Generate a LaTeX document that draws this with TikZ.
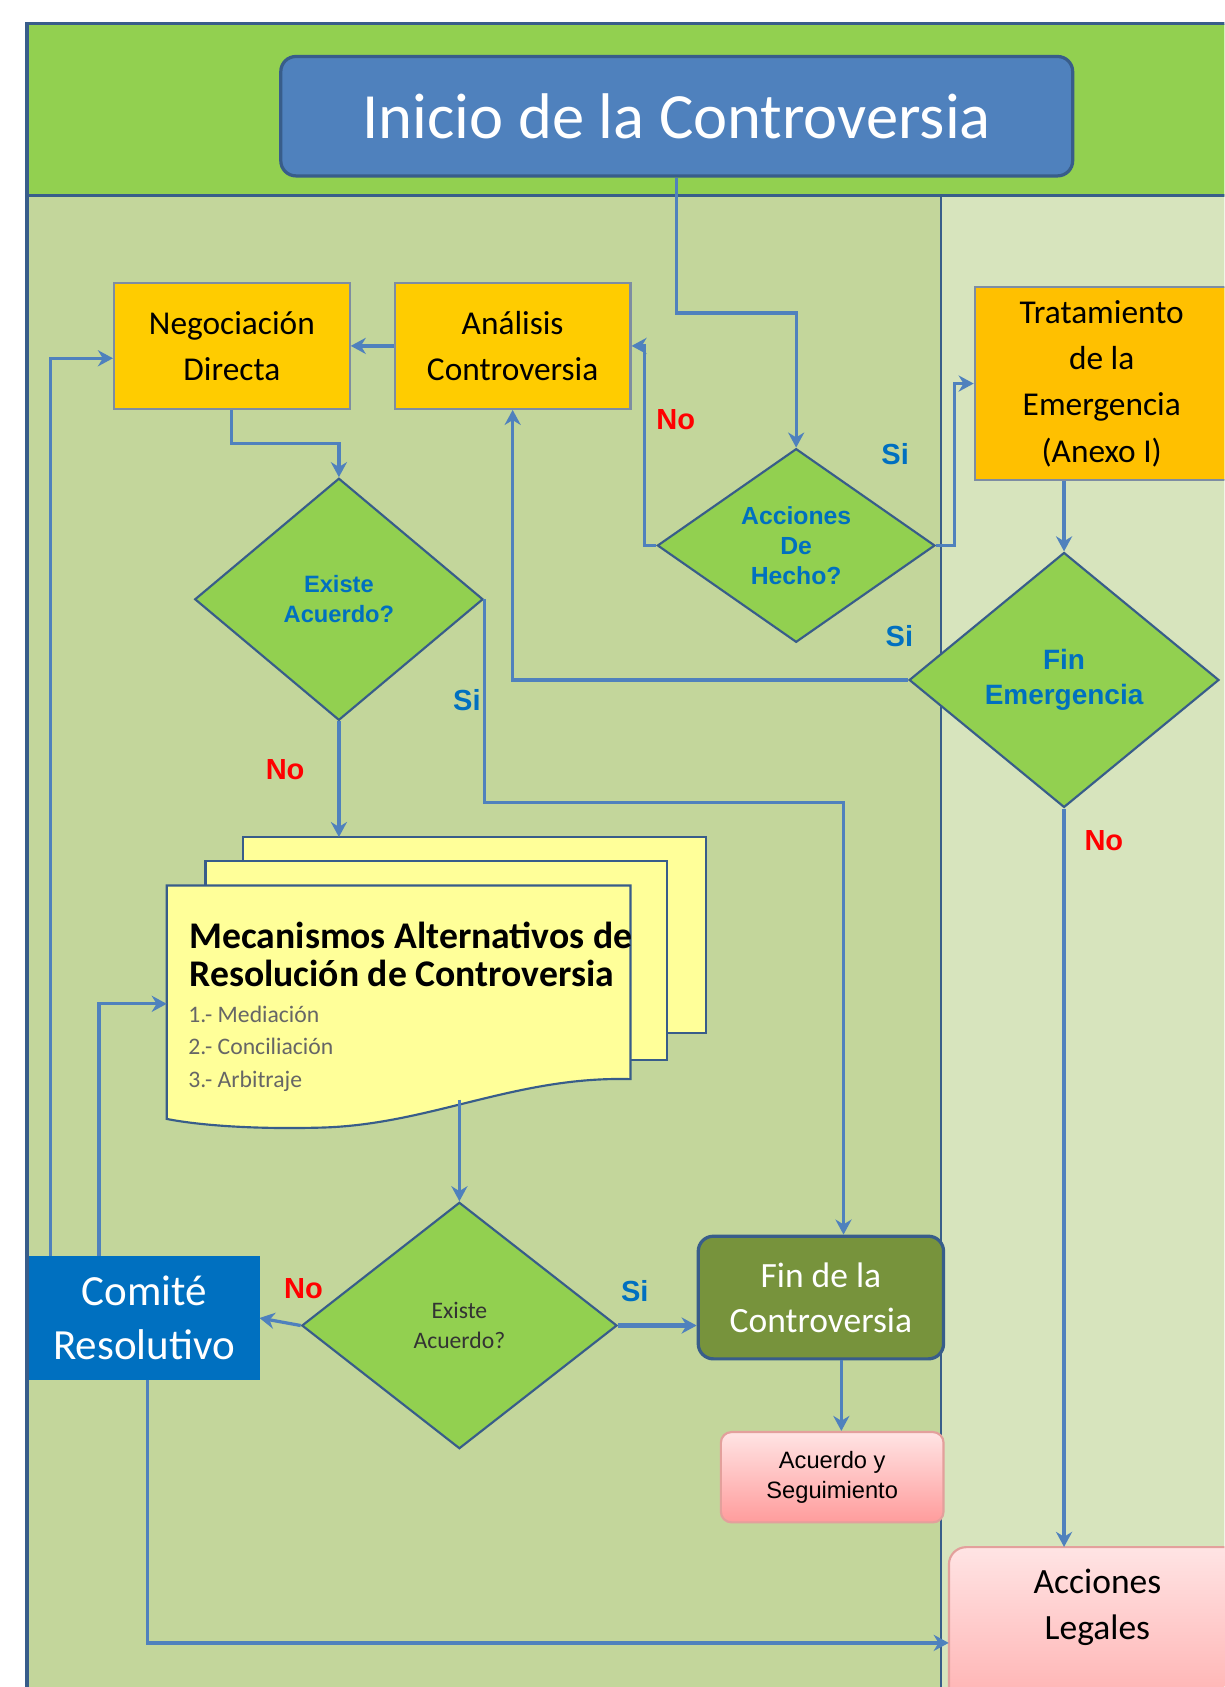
\documentclass[tikz,border=0pt]{standalone}
\usepackage{fontspec}
\setmainfont{Carlito}
\newfontfamily\arialfam{Liberation Sans}
\usepackage{tikz}
\usetikzlibrary{arrows.meta,calc,positioning,shapes.geometric}
\definecolor{verdecab}{HTML}{92D050}
\definecolor{carrilizq}{HTML}{C3D69B}
\definecolor{carrilder}{HTML}{D7E4BD}
\definecolor{marco}{HTML}{385D8A}
\definecolor{conector}{HTML}{4F81BD}
\definecolor{azulini}{HTML}{4F81BD}
\definecolor{amarillo}{HTML}{FFCC00}
\definecolor{naranja}{HTML}{FFC000}
\definecolor{borde}{HTML}{7D8DA3}
\definecolor{papel}{HTML}{FFFF99}
\definecolor{azulcom}{HTML}{0070C0}
\definecolor{oliva}{HTML}{77933C}
\definecolor{rosaclaro}{HTML}{FFE4E4}
\definecolor{rosa}{HTML}{FF9C9C}
\definecolor{rosaborde}{HTML}{E3A09C}
\definecolor{rojo}{HTML}{FF0000}

\begin{document}
\begin{tikzpicture}[x=1pt,y=-1pt,
  flecha/.style={draw=conector, line width=3pt, -{Stealth[length=14pt,width=15pt]}},
  caja/.style={draw=borde, line width=2pt, fill=amarillo, minimum width=219pt, minimum height=117pt, align=center, inner sep=0pt, font=\fontsize{31}{43}\selectfont},
  rombo/.style={diamond, aspect=1.3, draw=marco, line width=2pt, fill=verdecab, inner sep=0pt, align=center, text=azulcom, font=\arialfam\bfseries\fontsize{22}{28}\selectfont},
  rosada/.style={draw=rosaborde, line width=2pt, top color=rosaclaro, bottom color=rosa, rounded corners=10pt},
  hoja/.style={draw=marco, line width=2pt, fill=papel},
  etiqno/.style={text=rojo, inner sep=0pt, font=\arialfam\bfseries\fontsize{27}{27}\selectfont},
  etiqsi/.style={etiqno, text=azulcom}]
\useasboundingbox (0,0) rectangle (1138,1568);
\clip (0,0) rectangle (1138,1568);

\fill[verdecab] (25,22) rectangle (1145,182);
\fill[carrilizq] (25,182) rectangle (875,1575);
\fill[carrilder] (875,182) rectangle (1145,1575);
\draw[marco, line width=3pt] (25,1575) -- (25,22) -- (1145,22);
\draw[marco, line width=3pt] (25,182) -- (1145,182);
\draw[marco, line width=2pt] (875,182) -- (875,1575);

\node[draw=marco, line width=3pt, fill=azulini, rounded corners=14pt, minimum width=736pt, minimum height=111pt, text=white, font=\fontsize{60}{62}\selectfont] (inicio) at (629,108) {Inicio de la Controversia};

\node[caja] (nego) at (215.5,321.5) {Negociación\\Directa};
\node[caja] (anal) at (476.5,321.5) {Análisis\\Controversia};
\node[caja, fill=naranja, minimum width=236pt, minimum height=179pt] (trat) at (1024,356.5) {Tratamiento\\de la\\Emergencia\\(Anexo I)};

\node[rombo, minimum width=258pt, minimum height=180pt, font=\arialfam\bfseries\fontsize{23}{28}\selectfont] (hecho) at (740,507) {Acciones\\De\\Hecho?};
\node[rombo, minimum width=268pt, minimum height=225pt] (acuerdo1) at (315,557) {Existe\\Acuerdo?};
\node[rombo, minimum width=288pt, minimum height=237pt, font=\arialfam\bfseries\fontsize{26}{32}\selectfont] (finemerg) at (989,632) {Fin\\Emergencia};
\node[rombo, minimum width=293pt, minimum height=229pt, text=black!80, font=\fontsize{22}{28}\selectfont] (acuerdo2) at (427,1232) {Existe\\Acuerdo?};

\draw[hoja] (226,778) rectangle (656,960);
\draw[hoja] (191,800) rectangle (620,985);
\draw[hoja] (155,823) -- (586,823) -- (586,1003) .. controls (480,1000) and (400,1045) .. (300,1048) .. controls (230,1050) and (180,1045) .. (155,1040) -- cycle;
\coordinate (mecarriba) at (315,778);
\coordinate (mecabajo) at (427,1022);
\coordinate (mecizq) at (155,933);
\node[anchor=north west, align=left, inner sep=0pt, font=\fontsize{35}{35}\bfseries\selectfont] (mectitulo) at (176,857) {Mecanismos Alternativos de\\Resolución de Controversia};
\node[anchor=north west, align=left, inner sep=0pt, text=black!60, font=\fontsize{22}{30}\selectfont] (meclista) at (175,935) {1.- Mediación\\2.- Conciliación\\3.- Arbitraje};

\node[fill=azulcom, draw=azulcom, minimum width=214pt, minimum height=114pt, align=center, inner sep=0pt, text=white, font=\fontsize{40}{50}\selectfont] (comite) at (134,1225) {Comité\\Resolutivo};
\node[fill=oliva, draw=marco, line width=3pt, rounded corners=14pt, minimum width=228pt, minimum height=114pt, align=center, inner sep=0pt, text=white, font=\fontsize{33}{42}\selectfont] (fincon) at (763,1206) {Fin de la\\Controversia};
\node[rosada, minimum width=207pt, minimum height=84pt, align=center, inner sep=0pt, font=\arialfam\fontsize{22}{28}\selectfont] (acuerdoseg) at (773.5,1373) {Acuerdo y\\Seguimiento};
\draw[rosada, rounded corners=16pt] (882,1438) rectangle (1170,1650);
\node[minimum width=276pt, minimum height=112pt, align=center, inner sep=0pt, font=\fontsize{33}{42}\selectfont] (legales) at (1020,1494) {Acciones\\Legales};

\draw[flecha] (inicio.south) -- (inicio.south |- 0,291) -| (hecho.north);
\draw[flecha] (hecho.west) -| ([xshift=12pt]anal.east) -- (anal.east);
\draw[flecha] (hecho.east) -| ([xshift=-18pt]trat.west) -- (trat.west);
\draw[flecha] (finemerg.north |- trat.south) -- (finemerg.north);
\draw[flecha] (finemerg.west) -| (anal.south);
\draw[flecha] (finemerg.south) -- (finemerg.south |- legales.north);
\draw[flecha] (anal.west) -- (nego.east);
\draw[flecha] (nego.south) -- (nego.south |- 0,412) -| (acuerdo1.north);
\draw[flecha] (acuerdo1.east) -- (acuerdo1.east |- 0,746) -| ([xshift=21pt]fincon.north);
\draw[flecha] (acuerdo1.south) -- (mecarriba);
\draw[flecha] (mecabajo) -- (acuerdo2.north);
\draw[flecha] (acuerdo2.west) -- (comite.east);
\draw[flecha, line width=5pt] (acuerdo2.east) -- (acuerdo2.east -| fincon.west);
\draw[flecha] ([xshift=19pt]fincon.south) -- ([xshift=19pt]fincon.south |- acuerdoseg.north);
\draw[flecha] ([xshift=-87pt]comite.north) |- ([yshift=-11.5pt]nego.west);
\draw[flecha] ([xshift=-42pt]comite.north) |- (mecizq);
\draw[flecha] ([xshift=3pt]comite.south) |- ([yshift=-33pt]legales.west);

\node[etiqno] (no1) at (628,390) {No};
\node[etiqsi] (si1) at (832,422) {Si};
\node[etiqsi] (si2) at (836,591) {Si};
\node[etiqno] (no2) at (1026,781) {No};
\node[etiqsi] (si3) at (434,651) {Si};
\node[etiqno] (no3) at (265,715) {No};
\node[etiqno] (no4) at (282,1198) {No};
\node[etiqsi] (si4) at (590,1200) {Si};
\end{tikzpicture}
\end{document}
